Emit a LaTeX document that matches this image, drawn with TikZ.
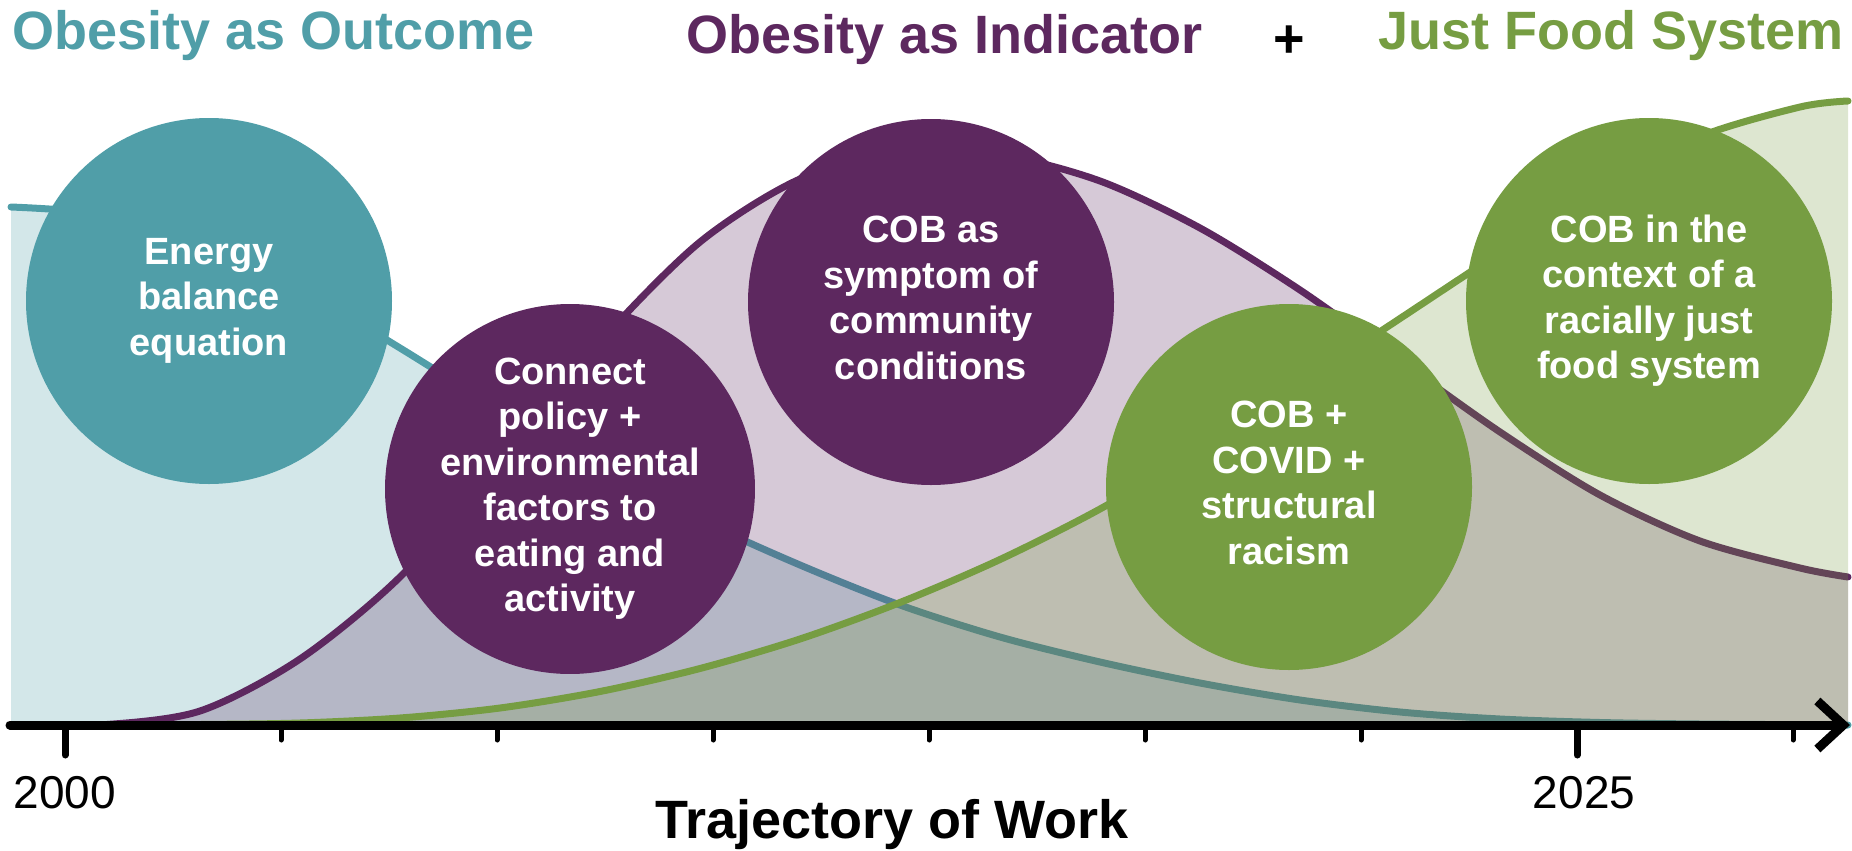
\documentclass[tikz,border=0pt]{standalone}
\usepackage{fontspec}
\setmainfont{Liberation Sans}
\usetikzlibrary{arrows.meta}
\definecolor{tealc}{HTML}{509EA8}
\definecolor{plum}{HTML}{5D285F}
\definecolor{leaf}{HTML}{769D42}
\newcommand{\bubblestrut}{\rule[-4.5pt]{0pt}{23.5pt}}
\tikzstyle{bubble}=[circle,minimum size=183pt,inner sep=0pt,text=white,align=center,font=\fontsize{19}{22.75}\selectfont\bfseries,execute at begin node=\bubblestrut,execute at end node=\bubblestrut]
\tikzstyle{heading}=[anchor=base west,inner sep=0pt,font=\fontsize{27}{30}\selectfont\bfseries]
\tikzstyle{year}=[anchor=base,inner sep=0pt,font=\fontsize{23}{26}\selectfont]
\tikzstyle{curve}=[line width=3.5pt,line cap=round]
\tikzstyle{area}=[fill opacity=0.25]
\tikzset{
  outcome line/.style={insert path={plot[smooth] coordinates {(11,207) (100,214) (200,240) (300,288) (400,348) (500,410) (600,468) (700,520) (800,565) (900,605) (1000,637) (1100,662) (1200,683) (1300,700) (1400,712) (1500,719) (1600,722.5) (1700,724) (1848,725)}}},
  indicator line/.style={insert path={plot[smooth] coordinates {(11,725) (100,725) (200,711) (300,659) (400,577) (500,464) (600,342) (700,242) (800,179) (900,153) (1000,155) (1100,181) (1200,228) (1300,290) (1400,361) (1500,432) (1600,495) (1700,541) (1800,568) (1848,577)}}},
  food line/.style={insert path={plot[smooth] coordinates {(11,725) (100,725) (200,724.5) (300,723) (400,718) (500,708) (600,691.5) (700,668.5) (800,639) (900,602.5) (1000,559.5) (1100,509) (1200,449.5) (1300,384.5) (1400,318.5) (1500,252.5) (1600,188.5) (1700,136.5) (1800,107) (1848,101)}}}
}

\begin{document}
\begin{tikzpicture}[x=0.5pt,y=-0.5pt]
\useasboundingbox (0,0) rectangle (1852,851);

\fill[tealc, area, outcome line] -- (1848,725) -- (11,725) -- cycle;
\draw[tealc, curve, outcome line];
\fill[plum, area, indicator line] -- (1848,725) -- (11,725) -- cycle;
\draw[plum, curve, indicator line];
\fill[leaf, area, food line] -- (1848,725) -- (11,725) -- cycle;
\draw[leaf, curve, food line];

\coordinate (origin) at (10,725);
\coordinate (tip) at (1850,725);
\draw[line width=4.5pt, line cap=round, -{Straight Barb[length=13pt,width=24pt]}] (origin) -- (tip);
\foreach \x in {281,497,713,929,1145,1361,1793}
  \draw[line width=2.5pt, line cap=round] (\x,725) -- (\x,740);
\foreach \x in {65,1577}
  \draw[line width=3.5pt, line cap=round] (\x,725) -- (\x,755);

\node[year] at (65,808) (y2000) {2000};
\node[year] at (1584,808) (y2025) {2025};
\node[anchor=base, inner sep=0pt, font=\fontsize{27}{30}\selectfont\bfseries] at (892,838) (xlabel) {Trajectory of Work};

\node[heading, text=tealc] at (12,49) (outcome) {Obesity as Outcome};
\node[heading, text=plum] at (686,54) (indicator) {Obesity as Indicator};
\node[heading, anchor=base] at (1289,57) (plus) {+};
\node[heading, text=leaf] at (1378,49) (foodsys) {Just Food System};

\node[bubble, fill=tealc] at (209,301) (energy) {Energy\\balance\\equation};
\node[bubble, fill=plum] at (570,489) (connect) {Connect\\policy +\\environmental\\factors to\\eating and\\activity};
\node[bubble, fill=plum] at (931,302) (symptom) {COB as\\symptom of\\community\\conditions};
\node[bubble, fill=leaf] at (1289,487) (covid) {COB +\\COVID +\\structural\\racism};
\node[bubble, fill=leaf] at (1649,301) (justfood) {COB in the\\context of a\\racially just\\food system};
\end{tikzpicture}
\end{document}
